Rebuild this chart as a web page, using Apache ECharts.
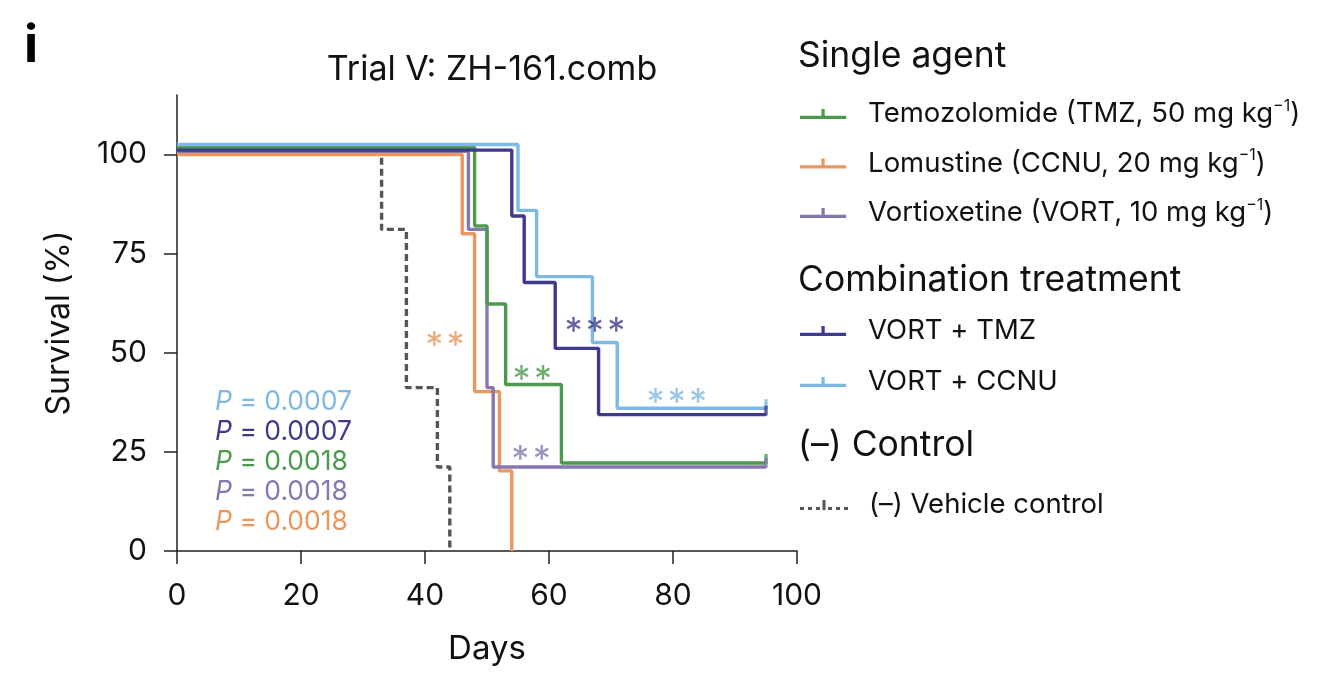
<!DOCTYPE html>
<html>
<head>
<meta charset="utf-8">
<script src="https://cdn.jsdelivr.net/npm/echarts@6/dist/echarts.min.js"></script>
<style>
html,body{margin:0;padding:0;background:#fff;}
#c{width:1328px;height:686px;}
</style>
</head>
<body>
<div id="c"></div>
<script>
// ---- data (Kaplan–Meier steps: [day, survival %]) ----
const tmzDays   = [0, 48, 50, 53, 62, 95];
const tmzSurv   = [101.8, 82.0, 62.3, 42.0, 22.2, 22.2];
const ccnuDays  = [0, 46, 48, 52, 54];
const ccnuSurv  = [100, 80, 40.2, 20.2, 0];
const vortDays  = [0, 47, 50, 51, 95];
const vortSurv  = [100.8, 81.1, 41.2, 21.2, 21.2];
const vtDays    = [0, 54, 56, 61, 68, 95];
const vtSurv    = [101.1, 84.5, 67.7, 51.1, 34.4, 34.4];
const vcDays    = [0, 55, 58, 67, 71, 95];
const vcSurv    = [102.5, 85.9, 69.2, 52.6, 36.0, 36.0];
const ctlDays   = [0, 33, 37, 42, 44];
const ctlSurv   = [100.3, 81.1, 41.2, 21.2, 0];

const xTicks = [0, 20, 40, 60, 80, 100];
const yTicks = [0, 25, 50, 75, 100];

const names = {
  tmz: 'Temozolomide (TMZ, 50 mg kg−1)',
  ccnu: 'Lomustine (CCNU, 20 mg kg−1)',
  vort: 'Vortioxetine (VORT, 10 mg kg−1)',
  vt: 'VORT + TMZ',
  vc: 'VORT + CCNU',
  ctl: '(–) Vehicle control'
};
const colors = {
  tmz: '#4b9a4d', ccnu: '#e9975f', vort: '#8677b1',
  vt: '#3e3a8e', vc: '#7db9e3', ctl: '#555555'
};

// significance annotations: [stars, day, survival, key]
const sigMarks = [
  [2, 43.2, 53.6, 'ccnu'],
  [2, 57.3, 45.0, 'tmz'],
  [2, 57.1, 24.9, 'vort'],
  [3, 67.4, 57.3, 'vt'],
  [3, 80.6, 39.2, 'vc']
];
// P values (text, key)
const pValues = [
  ['0.0007', 'vc'], ['0.0007', 'vt'], ['0.0018', 'tmz'], ['0.0018', 'vort'], ['0.0018', 'ccnu']
];
// censoring ticks at end of follow-up: [day, survival, key]
const censor = [
  [95, 36.0, 'vc'], [95, 34.4, 'vt'], [95, 22.2, 'tmz'], [95, 21.2, 'vort']
];

const FONT = 'Inter, "Noto Sans", sans-serif';
const zip = (a, b) => a.map((v, i) => [v, b[i]]);

function km(key, days, surv, dashed) {
  return {
    name: names[key], type: 'line', step: 'end', symbol: 'none',
    data: zip(days, surv), color: colors[key],
    lineStyle: { width: 3.4, color: colors[key], type: dashed ? [7, 4] : 'solid' },
    itemStyle: { color: colors[key] },
    z: 3, silent: true, animation: false
  };
}

const series = [
  km('ctl', ctlDays, ctlSurv, true),
  km('ccnu', ccnuDays, ccnuSurv),
  km('vort', vortDays, vortSurv),
  km('tmz', tmzDays, tmzSurv),
  km('vt', vtDays, vtSurv),
  km('vc', vcDays, vcSurv),
  {
    type: 'scatter', name: 'censor', silent: true, animation: false, z: 4,
    symbol: 'rect', symbolSize: [3.4, 10], symbolOffset: [0, -4],
    data: censor.map(c => ({ value: [c[0], c[1]], itemStyle: { color: colors[c[2]] } }))
  },
  {
    type: 'scatter', name: 'sig', silent: true, animation: false, z: 5,
    symbolSize: 0,
    data: sigMarks.map(s => ({
      value: [s[1], s[2]],
      label: { show: true, position: 'inside', formatter: new Array(s[0]).fill('*').join('\u200A'),
               color: colors[s[3]], fontSize: 36, fontFamily: FONT, offset: [0, 8] }
    }))
  }
];

function legendFmt(name) {
  const m = name.match(/^(.*)−1\)$/);
  if (m) return '{g| }' + m[1] + '{sup|−1}' + ')';
  return '{g| }' + name;
}
const legendText = {
  fontSize: 27.5, fontFamily: FONT, color: '#111', lineHeight: 32,
  rich: {
    g: { width: 16, fontSize: 27, lineHeight: 32 },
    sup: { fontSize: 16, fontFamily: FONT, color: '#111', padding: [0, 0, 16, 0], lineHeight: 32 }
  }
};
const lineIcon = 'path://M0,7h48v3.4h-48z M22.3,0h3.4v7h-3.4z';
const dashIcon = 'path://M0,7h4v3h-4z M8,7h4v3h-4z M16,7h4v3h-4z M22.5,0h3v10h-3z M28,7h4v3h-4z M36,7h4v3h-4z M44,7h4v3h-4z';
function mkLegend(keys, top, gap) {
  return {
    orient: 'vertical', left: 800, top: top, itemGap: gap,
    itemWidth: 48, itemHeight: 10, selectedMode: false, padding: 0,
    formatter: legendFmt, textStyle: legendText,
    data: keys.map(k => ({ name: names[k], icon: k === 'ctl' ? dashIcon : lineIcon,
                           itemStyle: { color: colors[k], borderWidth: 0 } }))
  };
}

const graphic = [
  { type: 'text', left: 24, top: 20, style: { text: 'i', fontSize: 52, fontWeight: 'bold', fontFamily: FONT, fill: '#000' } },
  { type: 'text', left: 798, top: 38, style: { text: 'Single agent', fontSize: 35.5, fontFamily: FONT, fill: '#111' } },
  { type: 'text', left: 798, top: 262, style: { text: 'Combination treatment', fontSize: 35.5, fontFamily: FONT, fill: '#111' } },
  { type: 'text', left: 798, top: 427, style: { text: '(–) Control', fontSize: 35.5, fontFamily: FONT, fill: '#111' } }
];
pValues.forEach((p, i) => {
  graphic.push({
    type: 'text', left: 215, top: 389 + i * 29.8,
    style: {
      text: '{i|P} = ' + p[0], fontSize: 26.5, fontFamily: FONT, fill: colors[p[1]],
      rich: { i: { fontStyle: 'italic', fontSize: 26.5, fontFamily: FONT, fill: colors[p[1]] } }
    }
  });
});

const chart = echarts.init(document.getElementById('c'), null, { renderer: 'canvas' });
chart.setOption({
  animation: false,
  backgroundColor: '#fff',
  title: {
    text: 'Trial V: ZH-161.comb', left: 487, top: 48, textAlign: 'center',
    textStyle: { fontSize: 34, fontWeight: 'normal', fontFamily: FONT, color: '#111' }
  },
  grid: { left: 177, right: 531, top: 95, bottom: 135 },
  xAxis: {
    type: 'value', min: 0, max: 100, interval: 20,
    name: 'Days', nameLocation: 'middle', nameGap: 82,
    nameTextStyle: { fontSize: 33, fontFamily: FONT, color: '#111' },
    axisLine: { lineStyle: { color: '#222', width: 1.5 } },
    axisTick: { show: true, length: 13, lineStyle: { color: '#222', width: 1.5 }, customValues: xTicks },
    axisLabel: { fontSize: 30, fontFamily: FONT, color: '#111', margin: 30, customValues: xTicks },
    splitLine: { show: false }
  },
  yAxis: {
    type: 'value', min: 0, max: 115, interval: 25,
    name: 'Survival (%)', nameLocation: 'middle', nameGap: 102, nameRotate: 90,
    nameTextStyle: { fontSize: 32, fontFamily: FONT, color: '#111' },
    axisLine: { show: true, lineStyle: { color: '#222', width: 1.5 } },
    axisTick: { show: true, length: 13, lineStyle: { color: '#222', width: 1.5 }, customValues: yTicks },
    axisLabel: { fontSize: 30, fontFamily: FONT, color: '#111', margin: 30, customValues: yTicks },
    splitLine: { show: false }
  },
  legend: [
    mkLegend(['tmz', 'ccnu', 'vort'], 98, 17.5),
    mkLegend(['vt', 'vc'], 315, 19),
    mkLegend(['ctl'], 489, 10)
  ],
  graphic: graphic,
  series: series
});
</script>
</body>
</html>
